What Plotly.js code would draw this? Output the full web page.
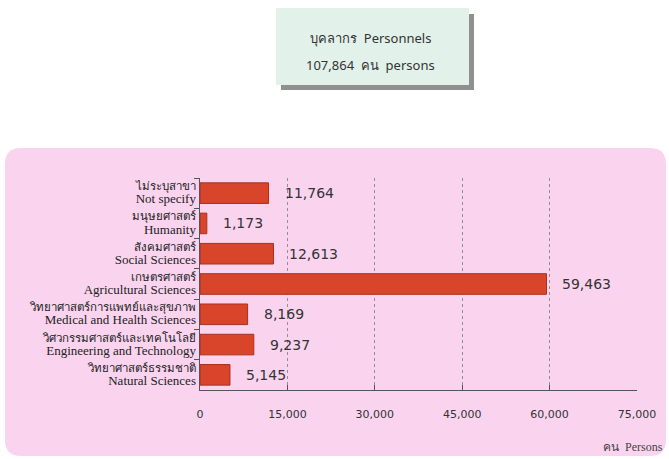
<!DOCTYPE html>
<html><head><meta charset="utf-8">
<script src="https://cdn.plot.ly/plotly-3.0.1.min.js"></script>
<style>html,body{margin:0;padding:0;background:#fff;}#chart{width:669px;height:459px;}</style>
</head><body><div id="chart"></div>
<script>
const categoriesTh = ["ไม่ระบุสาขา","มนุษยศาสตร์","สังคมศาสตร์","เกษตรศาสตร์","วิทยาศาสตร์การแพทย์และสุขภาพ","วิศวกรรมศาสตร์และเทคโนโลยี","วิทยาศาสตร์ธรรมชาติ"];
const categoriesEn = ["Not specify","Humanity","Social Sciences","Agricultural Sciences","Medical and Health Sciences","Engineering and Technology","Natural Sciences"];
const personnel = [11764, 1173, 12613, 59463, 8169, 9237, 5145];
const tickValues = [0, 15000, 30000, 45000, 60000, 75000];
const tickLabels = ["0","15,000","30,000","45,000","60,000","75,000"];
const titleLines = ["บุคลากร  Personnels", "107,864  คน  persons"];
const unitLabel = "คน  Persons";

const cats = categoriesTh.map((t,i)=>"<span style='font-size:11.5px'>"+t+"</span><br><span style='font-size:13px'>"+categoriesEn[i]+"</span>");

const trace = {
  type:"bar", orientation:"h",
  y: cats, x: personnel,
  marker:{color:"#d9452b", line:{color:"#a8301c", width:1}},
  width:0.68,
  hoverinfo:"x"
};

const annotations = personnel.map((v,i)=>({
  x:v, y:cats[i], xref:"x", yref:"y", text:v.toLocaleString("en-US"),
  showarrow:false, xanchor:"left", xshift:14,
  font:{family:"DejaVu Sans", size:14, color:"#333"}
}));
annotations.push({
  xref:"paper", yref:"paper", x:1.065, y:-0.27, xanchor:"right", yanchor:"middle",
  text:unitLabel, showarrow:false, font:{family:"Liberation Serif", size:12, color:"#444"}
});
annotations.push({
  xref:"paper", yref:"paper", x:0.391, y:1.66, xanchor:"center", yanchor:"middle",
  text:titleLines[0], showarrow:false, font:{family:"Noto Sans", size:13, color:"#333"}
});
annotations.push({
  xref:"paper", yref:"paper", x:0.391, y:1.535, xanchor:"center", yanchor:"middle",
  text:titleLines[1], showarrow:false, font:{family:"Noto Sans", size:13, color:"#333"}
});

const L=200, R=32, T=178, B=69, W=669, H=459;
const pw=W-L-R, ph=H-T-B;
const px = x=>(x-L)/pw, py = y=>(H-B-y)/ph;
function roundRect(x0,y0,x1,y1,r){
  return `M ${px(x0+r)} ${py(y0)} L ${px(x1-r)} ${py(y0)} Q ${px(x1)} ${py(y0)} ${px(x1)} ${py(y0+r)} `+
         `L ${px(x1)} ${py(y1-r)} Q ${px(x1)} ${py(y1)} ${px(x1-r)} ${py(y1)} `+
         `L ${px(x0+r)} ${py(y1)} Q ${px(x0)} ${py(y1)} ${px(x0)} ${py(y1-r)} `+
         `L ${px(x0)} ${py(y0+r)} Q ${px(x0)} ${py(y0)} ${px(x0+r)} ${py(y0)} Z`;
}
const shapes = [
  {type:"path", xref:"paper", yref:"paper", path:roundRect(5,148,666,456,16), fillcolor:"#fad4ef", line:{width:0}, layer:"below"},
  {type:"rect", xref:"paper", yref:"paper", x0:px(281), x1:px(474), y0:py(14), y1:py(90), fillcolor:"#8e9190", line:{width:0}, layer:"below"},
  {type:"rect", xref:"paper", yref:"paper", x0:px(276), x1:px(469), y0:py(8), y1:py(85), fillcolor:"#e2f1ea", line:{width:0}, layer:"below"}
];

const layout = {
  width:W, height:H,
  margin:{l:L, r:R, t:T, b:B},
  paper_bgcolor:"#ffffff", plot_bgcolor:"rgba(0,0,0,0)",
  showlegend:false,
  xaxis:{range:[0,75000], tickvals:tickValues, ticktext:tickLabels,
    showgrid:true, gridcolor:"#909090", griddash:"3px,3px", gridwidth:1,
    zeroline:false, showline:true, linecolor:"#555", linewidth:1,
    ticks:"inside", ticklen:5, tickcolor:"#555", ticklabelstandoff:14,
    tickfont:{family:"DejaVu Sans", size:11, color:"#333"}, fixedrange:true},
  yaxis:{autorange:"reversed", type:"category", showline:true, linecolor:"#555", linewidth:1,
    ticks:"outside", tickson:"boundaries", ticklen:5, tickcolor:"#555", showgrid:false,
    tickfont:{family:"Liberation Serif", size:10.2, color:"#222"}, ticklabelstandoff:1, fixedrange:true},
  annotations, shapes
};
Plotly.newPlot("chart",[trace],layout,{displayModeBar:false, staticPlot:true});
</script></body></html>
